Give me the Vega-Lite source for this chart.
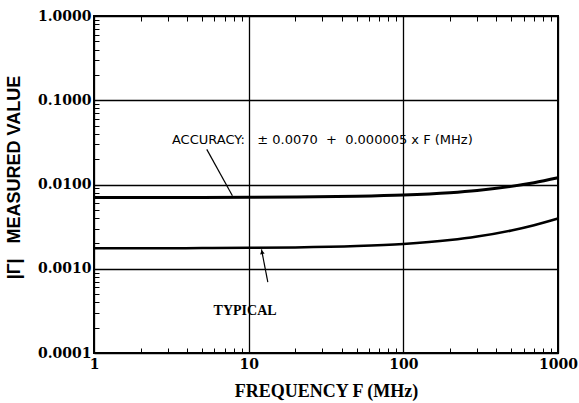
{
  "$schema": "https://vega.github.io/schema/vega-lite/v6.json",
  "width": 464,
  "height": 337,
  "autosize": {"type": "none"},
  "padding": {"left": 94, "top": 16, "right": 21, "bottom": 50},
  "background": "white",
  "config": {
    "view": {"stroke": "black", "strokeWidth": 2},
    "axis": {"domain": false, "tickColor": "black", "labelColor": "black", "titleColor": "black"}
  },
  "datasets": {
    "curves": [
      {"series": "accuracy", "F": 1, "value": 0.007005},
      {"series": "accuracy", "F": 2, "value": 0.00701},
      {"series": "accuracy", "F": 5, "value": 0.007025},
      {"series": "accuracy", "F": 10, "value": 0.00705},
      {"series": "accuracy", "F": 20, "value": 0.0071},
      {"series": "accuracy", "F": 50, "value": 0.00725},
      {"series": "accuracy", "F": 100, "value": 0.0075},
      {"series": "accuracy", "F": 200, "value": 0.008},
      {"series": "accuracy", "F": 300, "value": 0.0085},
      {"series": "accuracy", "F": 500, "value": 0.0095},
      {"series": "accuracy", "F": 700, "value": 0.0105},
      {"series": "accuracy", "F": 1000, "value": 0.012},
      {"series": "typical", "F": 1, "value": 0.00175},
      {"series": "typical", "F": 2, "value": 0.00175},
      {"series": "typical", "F": 5, "value": 0.00176},
      {"series": "typical", "F": 10, "value": 0.00177},
      {"series": "typical", "F": 20, "value": 0.00179},
      {"series": "typical", "F": 50, "value": 0.00186},
      {"series": "typical", "F": 100, "value": 0.00197},
      {"series": "typical", "F": 200, "value": 0.00219},
      {"series": "typical", "F": 300, "value": 0.00241},
      {"series": "typical", "F": 500, "value": 0.00285},
      {"series": "typical", "F": 700, "value": 0.00329},
      {"series": "typical", "F": 1000, "value": 0.00395}
    ],
    "arrows": [
      {"arrow": "acc", "F": 5.36, "value": 0.0261},
      {"arrow": "acc", "F": 7.85, "value": 0.00734},
      {"arrow": "typ", "F": 13.3, "value": 0.000692},
      {"arrow": "typ", "F": 12.1, "value": 0.0017}
    ],
    "heads": [
      {"F": 12.2, "value": 0.00158}
    ],
    "labels": [
      {"name": "acc", "F": 3.19, "value": 0.0334, "text": "ACCURACY:\u00a0\u00a0\u00a0±\u00a00.0070\u00a0\u00a0+\u00a0\u00a00.000005\u00a0x\u00a0F\u00a0(MHz)"},
      {"name": "typ", "F": 9.48, "value": 0.000319, "text": "TYPICAL"}
    ]
  },
  "resolve": {"axis": {"x": "independent", "y": "independent"}},
  "layer": [
    {
      "data": {"name": "curves"},
      "transform": [{"filter": "datum.series == 'accuracy'"}],
      "mark": {"type": "line", "color": "black", "strokeWidth": 3, "interpolate": "monotone"},
      "encoding": {
        "x": {
          "field": "F", "type": "quantitative",
          "scale": {"type": "log", "domain": [1, 1000], "nice": false},
          "axis": {
            "orient": "bottom",
            "values": [1,2,3,4,5,6,7,8,9,10,20,30,40,50,60,70,80,90,100,200,300,400,500,600,700,800,900,1000],
            "format": "d",
            "labelExpr": "abs(log(datum.value)/LN10 - round(log(datum.value)/LN10)) < 0.001 ? datum.label : ''",
            "grid": true,
            "gridColor": "black",
            "gridWidth": 1.3,
            "gridOpacity": {"condition": {"test": "abs(log(datum.value)/LN10 - round(log(datum.value)/LN10)) < 0.001", "value": 1}, "value": 0},
            "tickSize": -5,
            "tickWidth": 1,
            "labelFont": "DejaVu Serif",
            "labelFontWeight": "bold",
            "labelFontSize": 14,
            "labelPadding": 9,
            "labelOverlap": false,
            "labelFlush": false,
            "title": "FREQUENCY F (MHz)",
            "titleFont": "Liberation Serif",
            "titleFontWeight": "bold",
            "titleFontSize": 18,
            "titlePadding": 11
          }
        },
        "y": {
          "field": "value", "type": "quantitative",
          "scale": {"type": "log", "domain": [0.0001, 1], "nice": false},
          "axis": {
            "orient": "left",
            "values": [0.0001,0.0002,0.0003,0.0004,0.0005,0.0006,0.0007,0.0008,0.0009,0.001,0.002,0.003,0.004,0.005,0.006,0.007,0.008,0.009,0.01,0.02,0.03,0.04,0.05,0.06,0.07,0.08,0.09,0.1,0.2,0.3,0.4,0.5,0.6,0.7,0.8,0.9,1],
            "format": ".4f",
            "labelExpr": "abs(log(datum.value)/LN10 - round(log(datum.value)/LN10)) < 0.001 ? datum.label : ''",
            "grid": true,
            "gridColor": "black",
            "gridWidth": 1.3,
            "gridOpacity": {"condition": {"test": "abs(log(datum.value)/LN10 - round(log(datum.value)/LN10)) < 0.001", "value": 1}, "value": 0},
            "tickSize": -5,
            "tickWidth": 1,
            "labelFont": "DejaVu Serif",
            "labelFontWeight": "bold",
            "labelFontSize": 14,
            "labelPadding": 8,
            "labelOverlap": false,
            "title": "|Γ|\u00a0\u00a0\u00a0MEASURED VALUE",
            "titleFont": "Liberation Sans",
            "titleFontWeight": "bold",
            "titleFontSize": 18,
            "titlePadding": 14,
            "titleY": 161
          }
        }
      }
    },
    {
      "data": {"name": "curves"},
      "transform": [{"filter": "datum.series == 'typical'"}],
      "mark": {"type": "line", "color": "black", "strokeWidth": 2.5, "interpolate": "monotone"},
      "encoding": {
        "x": {
          "field": "F", "type": "quantitative",
          "axis": {
            "orient": "top",
            "values": [1,2,3,4,5,6,7,8,9,10,20,30,40,50,60,70,80,90,100,200,300,400,500,600,700,800,900,1000],
            "labels": false,
            "grid": false,
            "tickSize": -5,
            "title": null
          }
        },
        "y": {"field": "value", "type": "quantitative", "axis": null}
      }
    },
    {
      "data": {"name": "arrows"},
      "mark": {"type": "line", "color": "black", "strokeWidth": 1.2},
      "encoding": {
        "x": {"field": "F", "type": "quantitative", "axis": null},
        "y": {"field": "value", "type": "quantitative", "axis": null},
        "detail": {"field": "arrow"}
      }
    },
    {
      "data": {"name": "heads"},
      "mark": {"type": "point", "shape": "triangle-up", "filled": true, "color": "black", "size": 22, "angle": -11, "opacity": 1},
      "encoding": {
        "x": {"field": "F", "type": "quantitative", "axis": null},
        "y": {"field": "value", "type": "quantitative", "axis": null}
      }
    },
    {
      "data": {"name": "labels"},
      "transform": [{"filter": "datum.name == 'acc'"}],
      "mark": {"type": "text", "align": "left", "baseline": "middle", "font": "DejaVu Sans", "fontSize": 13, "color": "black"},
      "encoding": {
        "x": {"field": "F", "type": "quantitative", "axis": null},
        "y": {"field": "value", "type": "quantitative", "axis": null},
        "text": {"field": "text"}
      }
    },
    {
      "data": {"name": "labels"},
      "transform": [{"filter": "datum.name == 'typ'"}],
      "mark": {"type": "text", "align": "center", "baseline": "middle", "font": "Liberation Serif", "fontWeight": "bold", "fontSize": 14, "color": "black"},
      "encoding": {
        "x": {"field": "F", "type": "quantitative", "axis": null},
        "y": {"field": "value", "type": "quantitative", "axis": null},
        "text": {"field": "text"}
      }
    }
  ]
}
